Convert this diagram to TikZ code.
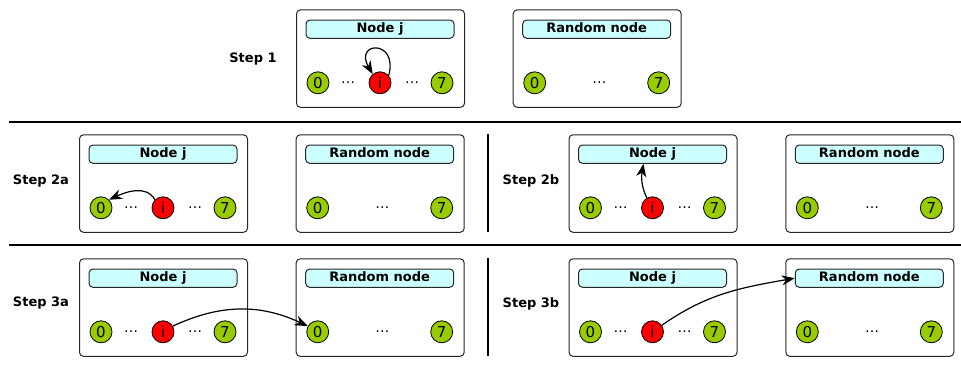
\documentclass[tikz,border=0pt]{standalone}
\usepackage{fontspec}
\setmainfont{DejaVu Sans}
\usetikzlibrary{arrows.meta}
\definecolor{hdrfill}{HTML}{CCFFFF}
\definecolor{gfill}{HTML}{99CC00}
\definecolor{rfill}{HTML}{FF0000}
\tikzset{
  jbox/.style={draw=black!85, line width=1pt, rounded corners=4pt, minimum width=168pt, minimum height=97.5pt, inner sep=0pt, anchor=north west},
  hdr/.style={draw=black!85, line width=1pt, rounded corners=4pt, fill=hdrfill, minimum width=148pt, minimum height=18.3pt, inner sep=0pt, text height=9.6pt, text depth=2.6pt, font=\bfseries\fontsize{13}{15}\selectfont},
  gcirc/.style={circle, draw=black, line width=0.8pt, fill=gfill, minimum size=22pt, inner sep=0pt, font=\fontsize{15}{17}\selectfont},
  rcirc/.style={gcirc, fill=rfill},
  dotsn/.style={inner sep=0pt, font=\fontsize{14}{16}\selectfont},
  steplbl/.style={inner sep=0pt, font=\bfseries\fontsize{13}{15}\selectfont},
  sepline/.style={line width=2pt, black},
  arr/.style={line width=1.2pt, -{Stealth[length=13pt,width=10pt,inset=4pt]}},
}
\newcommand\nodejbox[3]{%
  \node[jbox] (#1) at (#2,#3) {};
  \node[hdr] (#1-h) at ([shift={(84,-19.85)}]#1.north west) {Node j};
  \node[gcirc] (#1-0) at ([shift={(22,-73.5)}]#1.north west) {0};
  \node[dotsn] (#1-da) at ([shift={(52,-73.5)}]#1.north west) {…};
  \node[rcirc] (#1-i) at ([shift={(84,-73.5)}]#1.north west) {i};
  \node[dotsn] (#1-db) at ([shift={(116,-73.5)}]#1.north west) {…};
  \node[gcirc] (#1-7) at ([shift={(146,-73.5)}]#1.north west) {7};
}
\newcommand\randjbox[3]{%
  \node[jbox] (#1) at (#2,#3) {};
  \node[hdr] (#1-h) at ([shift={(84,-19.85)}]#1.north west) {Random node};
  \node[gcirc] (#1-0) at ([shift={(22,-73.5)}]#1.north west) {0};
  \node[dotsn] (#1-d) at ([shift={(86.7,-73.5)}]#1.north west) {…};
  \node[gcirc] (#1-7) at ([shift={(146,-73.5)}]#1.north west) {7};
}
\begin{document}
\begin{tikzpicture}[x=1pt,y=1pt]
\useasboundingbox (0,0) rectangle (961,-367);
% Row 1
\node[steplbl] (l1) at (253,-59) {Step 1};
\nodejbox{s}{296}{-9.3}
\randjbox{sr}{512.7}{-9.3}
\draw[arr] (s-i.40) to[out=75, in=120, looseness=6] (s-i.130);
% separators
\coordinate (h1a) at (9.3,-122);
\coordinate (h1b) at (961,-122);
\coordinate (h2a) at (9.3,-245);
\coordinate (h2b) at (961,-245);
\draw[sepline] (h1a) -- (h1b);
\draw[sepline] (h2a) -- (h2b);
\coordinate (v1a) at (487.7,-134.3);
\coordinate (v1b) at (487.7,-231.7);
\coordinate (v2a) at (487.7,-258.3);
\coordinate (v2b) at (487.7,-356);
\draw[sepline] (v1a) -- (v1b);
\draw[sepline] (v2a) -- (v2b);
% Row 2
\node[steplbl] (l2a) at (41,-181) {Step 2a};
\nodejbox{a}{79}{-134.3}
\randjbox{ar}{295.7}{-134.3}
\draw[arr] (a-i.135) to[out=120, in=25] (a-0.45);
\node[steplbl] (l2b) at (531,-180.5) {Step 2b};
\nodejbox{b}{568.5}{-134.3}
\randjbox{br}{785.3}{-134.3}
\draw[arr] (b-i.120) to[out=115, in=-100] ([xshift=-9pt]b-h.south);
% Row 3
\node[steplbl] (l3a) at (41,-303.3) {Step 3a};
\nodejbox{c}{79}{-258.3}
\randjbox{cr}{295.7}{-258.3}
\draw[arr] (c-i.30) to[out=25, in=155] (cr-0.150);
\node[steplbl] (l3b) at (531,-303.5) {Step 3b};
\nodejbox{d}{568.5}{-258.3}
\randjbox{dr}{785.3}{-258.3}
\draw[arr] (d-i.35) to[out=35, in=190] (dr-h.west);
\end{tikzpicture}
\end{document}
